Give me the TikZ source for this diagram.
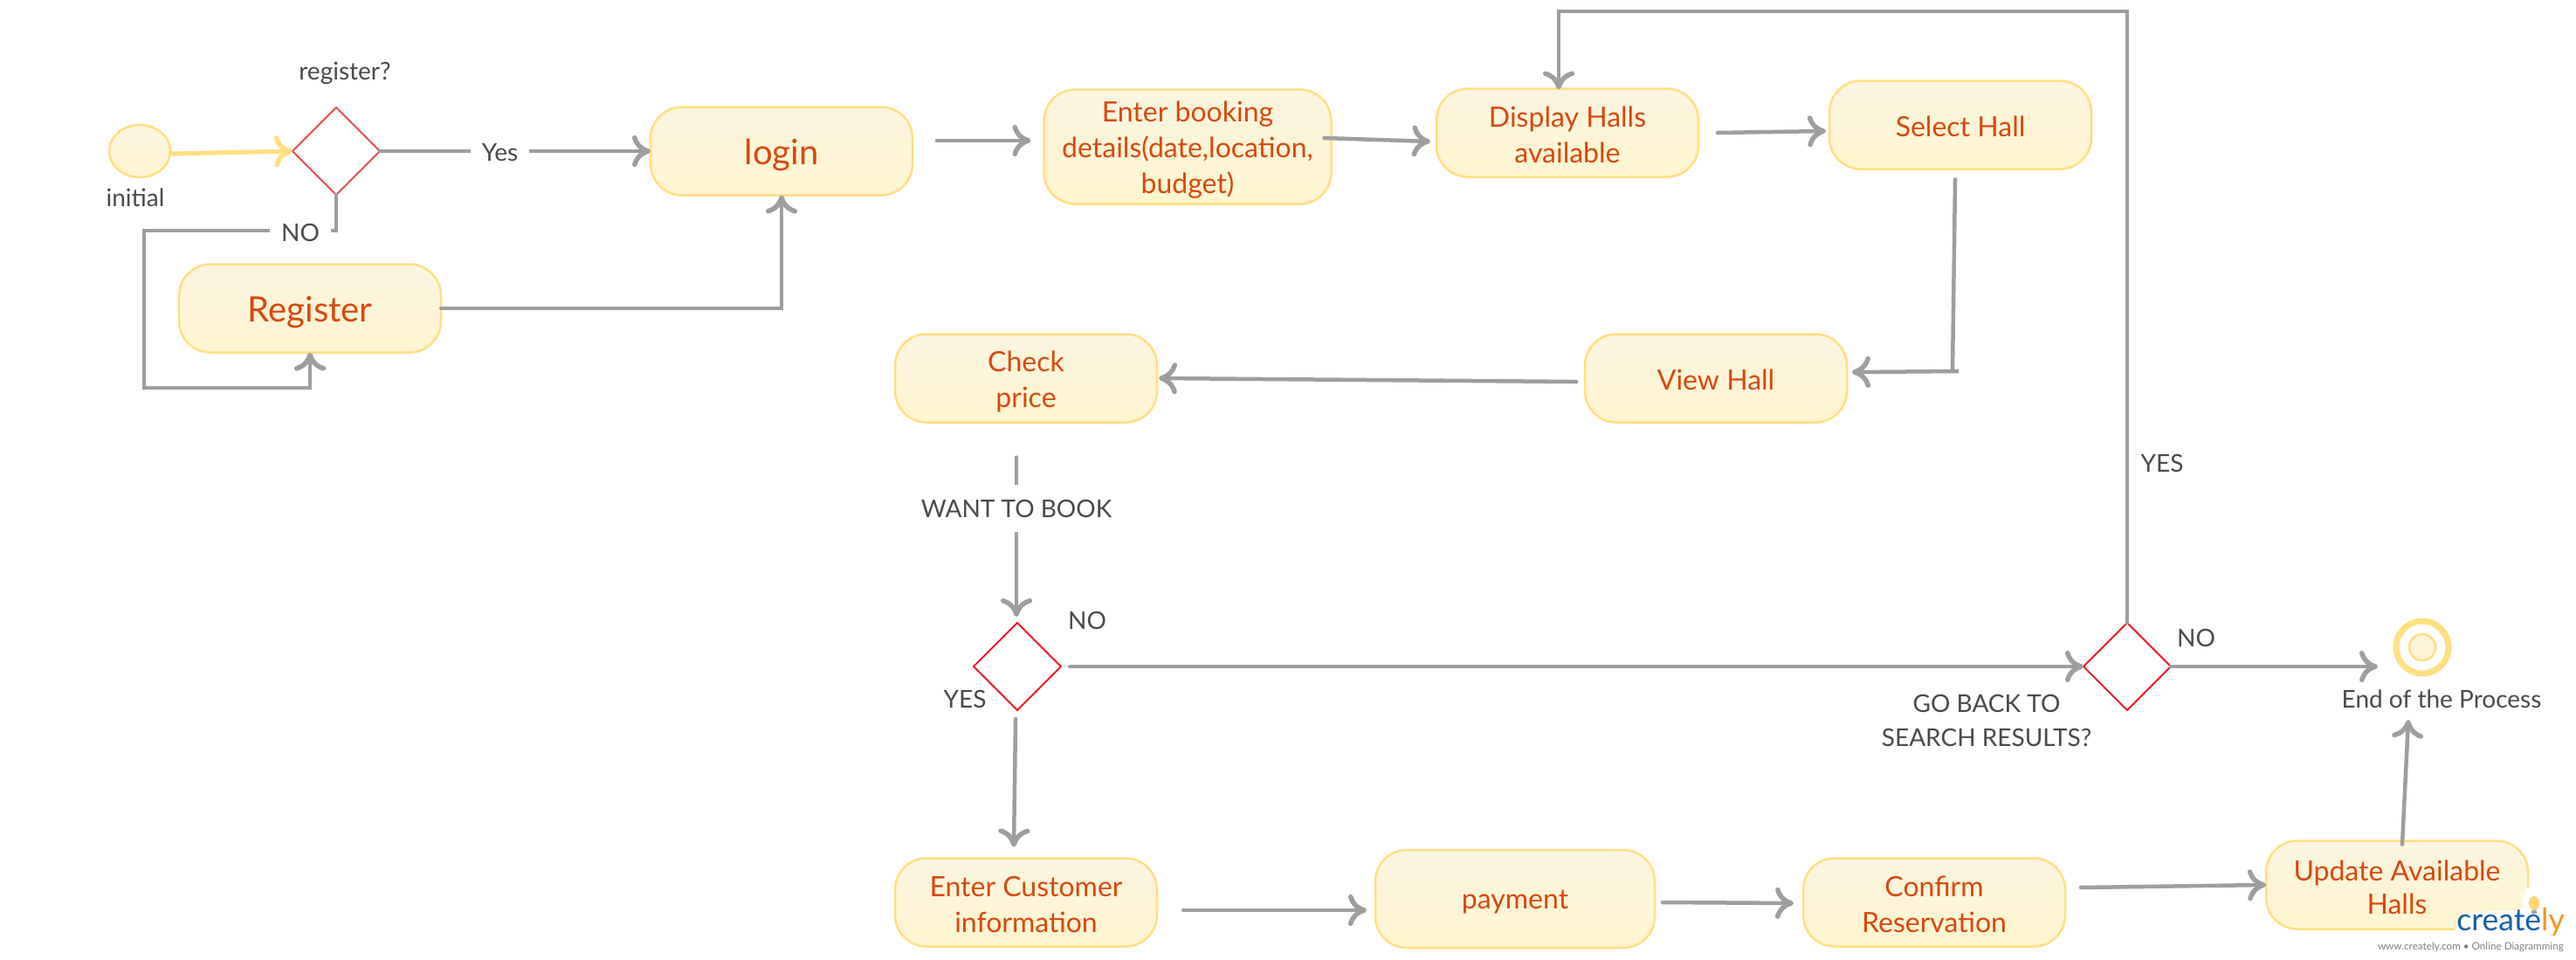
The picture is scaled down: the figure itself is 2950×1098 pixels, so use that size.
\documentclass[tikz,border=0pt]{standalone}
\usepackage{fontspec}
\setmainfont{Lato}
\usetikzlibrary{arrows.meta,shapes.geometric,calc}
\definecolor{connc}{HTML}{9E9E9E}
\definecolor{boxline}{HTML}{FFDF80}
\definecolor{boxtop}{HTML}{FBF5E0}
\definecolor{boxbot}{HTML}{FFF5CE}
\definecolor{boxtext}{HTML}{D9480F}
\definecolor{labtext}{HTML}{4A4A4A}
\definecolor{redline}{HTML}{ED1C24}
\definecolor{logoblue}{HTML}{1460A8}
\definecolor{logoor}{HTML}{F7941E}
\newcommand{\lowr}[1]{\rule{0pt}{#1pt}}
\tikzset{
  x=1pt,y=-1pt,
  conn/.style={draw=connc,line width=4.5pt,line cap=round,line join=miter,
    -{Computer Modern Rightarrow[length=21pt,width=36pt,line width=5.5pt]}},
  actbox/.style={draw=boxline,line width=2.5pt,top color=boxtop,bottom color=boxbot,
    rounded corners=36pt,minimum width=#1,minimum height=101pt,inner sep=0pt,outer sep=0pt,
    align=center,text=boxtext,font=\fontsize{32}{41}\selectfont},
  actbox/.default=300pt,
  decide/.style={diamond,draw=redline,line width=2pt,fill=white,aspect=1,
    minimum width=100pt,minimum height=100pt,inner sep=0pt,outer sep=0pt},
  lab/.style={text=labtext,font=\fontsize{28}{39}\selectfont,align=center,inner sep=0pt,yshift=-2pt},
  edgelab/.style={lab,fill=white,inner xsep=13pt,inner ysep=0pt,minimum height=#1},
  edgelab/.default=30pt,
}
\begin{document}
\begin{tikzpicture}
\useasboundingbox[fill=white] (0,0) rectangle (2950,1098);
% nodes
\node[draw=boxline,line width=2.5pt,top color=boxtop,bottom color=boxbot,ellipse,
  minimum width=70pt,minimum height=60pt,inner sep=0pt,outer sep=0pt] (init) at (160,173) {};
\node[decide,draw=redline!80!white] (d1) at (385,173) {};
\node[actbox,font=\fontsize{40}{50}\selectfont] (login) at (895,173) {\lowr{38}login};
\node[actbox,font=\fontsize{40}{50}\selectfont] (reg) at (355,353) {\lowr{38}Register};
\node[actbox=329pt,minimum height=131pt] (book) at (1360,168) {\lowr{31}Enter booking\\details(date,location,\\budget)};
\node[actbox] (disp) at (1795,152) {\lowr{29}Display Halls\\available};
\node[actbox] (sel) at (2245,143) {\lowr{28}Select Hall};
\node[actbox] (view) at (1965,433) {\lowr{28}View Hall};
\node[actbox] (check) at (1175,433) {\lowr{31}Check\\price};
\node[decide] (d2) at (1165,763) {};
\node[decide] (d3) at (2436,763) {};
\node[actbox] (cust) at (1175,1033) {\lowr{29}Enter Customer\\information};
\node[actbox=320pt,minimum height=112pt] (pay) at (1735,1029) {\lowr{29}payment};
\node[actbox] (conf) at (2215,1033) {\lowr{29}Confirm\\Reservation};
\node[actbox,font=\fontsize{32}{38}\selectfont] (upd) at (2745,1013) {\lowr{29}Update Available\\Halls};
\node[circle,draw=boxline,line width=7pt,fill=white,minimum size=60pt,inner sep=0pt,outer sep=0pt] (endo) at (2774,741) {};
\node[circle,draw=boxline,line width=2.5pt,top color=boxtop,bottom color=boxbot,minimum size=30pt,inner sep=0pt] (endi) at (2774,741) {};
% text labels
\node[lab] (tinit) at (155,224) {initial};
\node[lab] (treg) at (395,82) {register?};
\node[lab] (tno2) at (1245,708) {NO};
\node[lab] (tyes2) at (1105,798) {YES};
\node[lab] (tno3) at (2515,728) {NO};
\node[lab] (tyes3) at (2476,528) {YES};
\node[lab] (tgo) at (2275,823) {GO BACK TO\\SEARCH RESULTS?};
\node[lab] (tend) at (2796,798) {End of the Process};
% connectors
\draw[conn,draw=boxline,line width=5pt] ([yshift=-3pt]init.east) -- (d1.west);
\draw[conn] (d1.east) -- node[edgelab,pos=.444] (yesl) {Yes} (login.west);
\draw[conn] (d1.south) -- ++(0,41) -- node[edgelab,pos=.186] (nol) {NO} ++(-220,0) -- ++(0,180) -| (reg.south);
\draw[conn] (reg.east) -| (login.south);
\draw[conn] ([shift={(28,-12)}]login.east) -- ([shift={(-15,-7)}]book.west);
\draw[conn] ([shift={(-8,-10)}]book.east) -- ([shift={(-7,10)}]disp.west);
\draw[conn] ([shift={(22,0)}]disp.east) -- ([shift={(-4,7)}]sel.west);
\draw[conn] ([shift={(-6,12)}]sel.south) -- ([shift={(-9,-8)}]view.east -| sel.south) -- ++(7,0) -- ([shift={(6,-7)}]view.east);
\draw[conn] ([shift={(-10,4)}]view.west) -- ([shift={(2,0)}]check.east);
\draw[conn] ([shift={(-11,40)}]check.south) -- node[edgelab=54pt,pos=.31] (wl) {WANT TO BOOK} ([shift={(-1,-7)}]d2.north);
\draw[conn] ([xshift=10pt]d2.east) -- (d3.west);
\draw[conn] ([shift={(-2,10)}]d2.south) -- ([shift={(-14,-13)}]cust.north);
\draw[conn] ([shift={(30,9)}]cust.east) -- ([shift={(-10,13)}]pay.west);
\draw[conn] ([shift={(9,4)}]pay.east) -- ([shift={(-11,1)}]conf.west);
\draw[conn] ([shift={(18,-17)}]conf.east) -- (upd.west);
\draw[conn] (d3.east) -- ([xshift=-21pt]endo.west |- d3.east);
\draw[conn] ([shift={(6,4)}]upd.north) -- ([shift={(-16,53)}]endo.south);
\draw[conn] (d3.north) -- ++(0,-700) -| ([shift={(-10,1)}]disp.north);
% logo
\fill[white,rounded corners=4pt] (2810,1068) -- (2816,1052) -- (2830,1044) -- (2888,1042) -- (2892,1016) -- (2950,1016) -- (2950,1098) -- (2810,1098) -- cycle;
\node[inner sep=0pt,anchor=base east,font=\fontsize{35.5}{36}\selectfont] (logo) at (2937,1065)
  {\textcolor{logoblue}{create}\textcolor{logoor}{ly}};
\node[inner sep=0pt,anchor=base east,text=gray,font=\fontsize{11.7}{13}\selectfont] (logot) at (2936,1087)
  {www.creately.com • Online Diagramming};
\fill[boxline!90!orange] (2902,1034) ellipse (6pt and 8pt);
\fill[gray!70] (2899,1042) rectangle (2905,1046);
\end{tikzpicture}
\end{document}
